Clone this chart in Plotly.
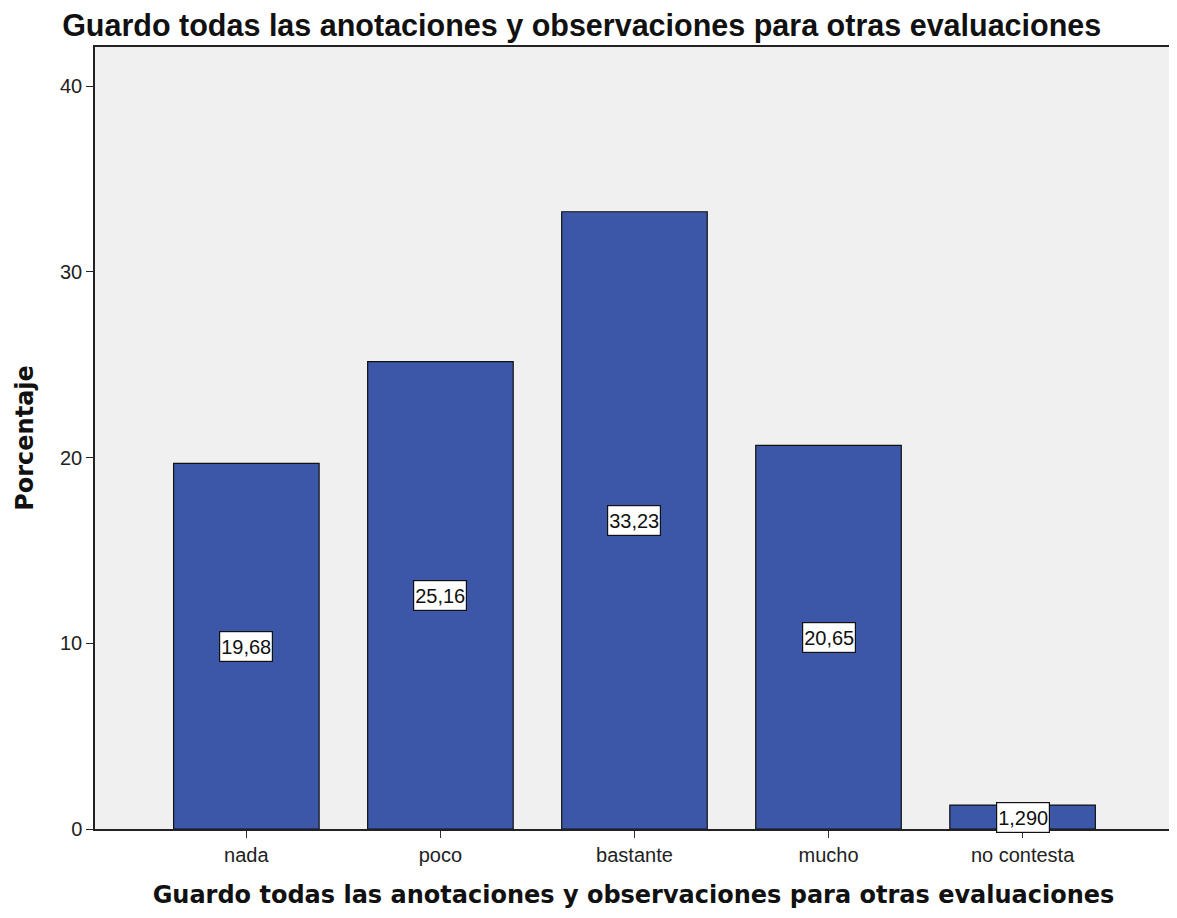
import plotly.graph_objects as go

categories = ["nada", "poco", "bastante", "mucho", "no contesta"]
values = [19.68, 25.16, 33.23, 20.65, 1.29]
labels = ["19,68", "25,16", "33,23", "20,65", "1,290"]
y_ticks = [0, 10, 20, 30, 40]
title = "Guardo todas las anotaciones y observaciones para otras evaluaciones"

fig = go.Figure()
fig.add_trace(go.Bar(
    x=categories, y=values, width=0.75,
    marker=dict(color="#3C57A8", line=dict(color="#111111", width=1.2)),
    hoverinfo="skip",
))
for c, v, t in zip(categories, values, labels):
    fig.add_annotation(
        x=c, y=v / 2, text=t, showarrow=False, height=27,
        font=dict(family="Liberation Sans, Arial", size=20, color="#111111"),
        bgcolor="white", bordercolor="#111111", borderwidth=1.2, borderpad=1,
    )

fig.update_layout(
    width=1177, height=918,
    paper_bgcolor="white", plot_bgcolor="#F0F0F0",
    margin=dict(l=87, r=13, t=39, b=97),
    title=dict(text=title, x=0.046, xanchor="left", xref="container",
               y=0.981, yanchor="middle", yref="container",
               font=dict(family="Liberation Sans, Arial", size=30.5, color="#111111", weight="bold")),
    showlegend=False,
)
fig.update_xaxes(
    range=[-0.78, 4.77], tickfont=dict(family="Liberation Sans, Arial", size=20, color="#222222"),
    ticks="outside", ticklen=7, tickcolor="#333333",
    showline=True, linecolor="#222222", linewidth=1.5, mirror=True,
    title=dict(text=title, standoff=21,
               font=dict(family="DejaVu Sans", size=24, color="#111111", weight="bold")),
    showgrid=False,
)
fig.update_yaxes(
    range=[0, 42.1], tickvals=y_ticks,
    tickfont=dict(family="Liberation Sans, Arial", size=20, color="#222222"),
    ticks="outside", ticklen=7, tickcolor="#222222",
    showline=True, linecolor="#222222", linewidth=1.5, mirror=True,
    title=dict(text="Porcentaje", standoff=20,
               font=dict(family="DejaVu Sans", size=24, color="#111111", weight="bold")),
    showgrid=False, zeroline=False,
)
fig.write_html("out.html")
